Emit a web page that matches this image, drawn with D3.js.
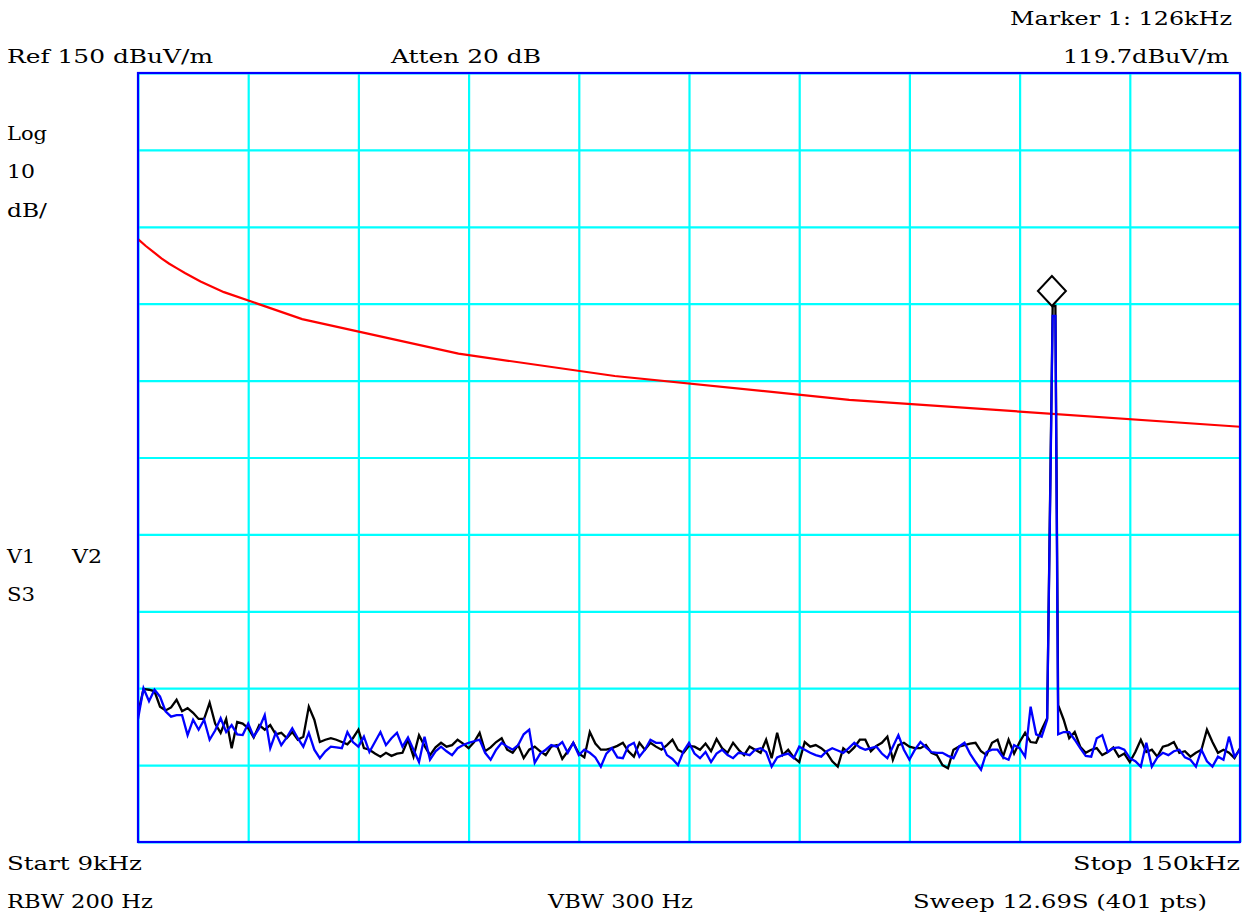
<!DOCTYPE html>
<html><head><meta charset="utf-8">
<script src="https://cdn.jsdelivr.net/npm/d3@7"></script>
<style>
html,body{margin:0;padding:0;background:#fff;}
svg{display:block;}
text{font-family:"DejaVu Serif",serif;font-size:19px;fill:#000;}
</style>
</head><body>
<svg id="c" width="1242" height="914"></svg>
<script>
// ---- data ----
const startKHz = 9, stopKHz = 150;
const refLevel = 150, bottomLevel = 50;
const gridFreqTicks = [9, 23.1, 37.2, 51.3, 65.4, 79.5, 93.6, 107.7, 121.8, 135.9, 150];
const gridLevelTicks = [50, 60, 70, 80, 90, 100, 110, 120, 130, 140, 150];

const limitFreq  = [9, 10, 11, 12, 13, 14, 15, 17, 20, 30, 50, 70, 100, 150];
const limitLevel = [128.4, 127.5, 126.7, 125.9, 125.2, 124.6, 124.0, 122.9, 121.5, 118.0, 113.5, 110.6, 107.5, 104.0];

const traceBlack = [
66.7,69.9,69.8,69.6,67.6,67.1,67.5,68.5,67.0,67.4,
66.8,66.0,66.0,68.1,65.4,64.2,66.0,62.2,65.6,65.4,
64.8,63.6,65.2,64.6,65.2,64.0,64.2,63.5,64.3,63.3,
63.7,67.6,65.9,63.0,63.3,63.5,63.3,63.0,62.7,63.5,
64.6,62.2,62.0,61.5,61.1,61.6,61.2,61.5,61.6,63.3,
61.1,63.9,62.5,61.3,62.3,62.9,62.4,62.6,63.3,62.8,
62.2,63.0,64.2,61.8,62.3,63.0,63.5,62.0,61.6,62.6,
60.9,62.0,62.4,61.8,61.3,62.4,62.6,60.8,61.8,62.9,
61.5,61.0,64.3,62.8,62.0,62.0,62.2,62.5,62.9,61.8,
61.1,62.9,62.0,62.9,62.4,62.0,62.6,63.3,62.0,61.6,
62.5,62.4,62.0,62.8,61.8,63.4,62.2,61.6,62.9,62.0,
61.3,62.4,62.0,61.6,63.3,60.9,64.2,61.3,62.0,61.0,
60.4,63.0,62.4,62.6,62.2,61.6,60.5,59.8,62.2,61.6,
62.3,63.3,63.3,61.8,62.5,62.9,63.7,60.7,62.6,62.9,
62.4,62.2,62.2,62.6,61.6,61.3,60.0,59.6,62.0,62.4,
62.6,62.8,62.9,61.8,61.3,62.9,63.3,61.1,63.3,61.5,
63.0,64.2,63.0,62.9,64.6,66.1,119.7,67.8,65.9,63.5,
64.3,62.4,61.6,62.0,62.2,61.3,61.7,62.3,61.1,61.5,
60.4,61.7,63.3,61.7,62.0,61.1,62.4,62.6,63.0,61.6,
61.8,61.1,61.6,62.0,64.6,63.0,61.6,62.0,61.6,60.9,62.2
];

const traceBlue = [
66.0,70.0,68.3,69.8,68.9,67.0,66.3,66.5,66.5,63.9,
65.9,64.6,65.9,63.3,64.5,66.1,64.3,65.2,64.0,63.9,
65.4,63.7,64.8,66.5,62.2,64.2,62.6,63.6,64.8,63.5,
62.4,64.2,62.0,60.9,61.8,62.4,62.3,62.2,64.3,63.0,
62.4,63.7,61.7,63.0,64.3,62.6,63.5,64.2,62.4,63.6,
62.0,60.4,63.7,60.7,61.8,62.4,61.8,61.3,62.2,62.6,
62.9,63.1,63.3,61.6,60.7,62.0,62.9,62.4,62.0,62.6,
64.0,64.6,60.3,61.5,62.0,62.6,62.4,63.0,61.6,62.9,
61.3,62.0,61.6,61.0,59.8,61.5,62.2,61.0,60.9,62.5,
62.9,61.1,62.0,63.3,62.9,62.9,61.3,60.8,60.0,61.8,
62.9,61.5,60.9,61.7,60.4,61.5,62.0,61.3,60.9,61.6,
61.5,61.3,62.0,62.2,61.7,59.8,61.0,61.3,61.5,60.9,
62.4,62.0,61.6,61.3,61.1,61.8,62.2,61.9,61.6,62.2,
62.9,62.3,62.0,62.2,62.4,61.5,60.9,62.4,63.9,62.0,
60.7,62.0,63.0,62.3,61.7,61.6,61.6,61.2,60.9,62.4,
62.9,61.5,60.4,59.4,61.7,62.0,62.0,61.0,60.7,62.6,
62.2,61.1,67.6,64.0,63.7,65.9,118.4,64.0,64.3,64.3,
63.3,62.2,61.2,61.1,63.5,63.9,61.7,62.2,62.3,62.0,
60.9,60.5,59.8,62.9,59.8,61.0,61.6,61.3,61.8,62.0,
61.0,60.7,59.8,62.0,60.5,59.8,61.1,60.7,63.7,61.1,62.0
];

// extra sweep point at the top of the peak (second 401-grid point)
const peakExtraFreq = 126.38;
const peakExtraBlack = 119.7;
const peakExtraBlue = 118.4;

const markerFreq = 126, markerLevel = 119.7;

// ---- layout ----
const svg = d3.select("#c");
const L = 138, T = 73, R = 1240, B = 842;
const x = d3.scaleLinear().domain([startKHz, stopKHz]).range([L, R]);
const y = d3.scaleLinear().domain([bottomLevel, refLevel]).range([B, T]);

svg.append("rect").attr("width", 1242).attr("height", 914).attr("fill", "#fff");

// grid via axes
const gx = svg.append("g").attr("transform", `translate(0,${B})`)
  .call(d3.axisBottom(x).tickValues(gridFreqTicks).tickSize(-(B - T)).tickFormat(""));
const gy = svg.append("g").attr("transform", `translate(${L},0)`)
  .call(d3.axisLeft(y).tickValues(gridLevelTicks).tickSize(-(R - L)).tickFormat(""));
[gx, gy].forEach(g => {
  g.select(".domain").remove();
  g.selectAll(".tick line").attr("stroke", "#00ffff").attr("stroke-width", 2.2);
});

// limit line
const limitData = limitFreq.map((f, i) => [f, limitLevel[i]]);
const line = d3.line().x(d => x(d[0])).y(d => y(d[1]));
svg.append("path").datum(limitData).attr("d", line)
  .attr("fill", "none").attr("stroke", "#ff0000").attr("stroke-width", 2.2);

// traces
const pts = traceBlack.length;
const traceFreq = d3.range(pts).map(i => startKHz + i * (stopKHz - startKHz) / (pts - 1));
function series(vals, extraF, extraV) {
  const s = vals.map((v, i) => [traceFreq[i], v]);
  s.push([extraF, extraV]);
  return s.sort((a, b) => a[0] - b[0]);
}
svg.append("clipPath").attr("id", "plotclip").append("rect")
  .attr("x", L).attr("y", T).attr("width", R - L).attr("height", B - T);
svg.append("path").datum(series(traceBlack, peakExtraFreq, peakExtraBlack)).attr("d", line)
  .attr("clip-path", "url(#plotclip)")
  .attr("fill", "none").attr("stroke", "#000").attr("stroke-width", 2.3).attr("stroke-linejoin", "miter");
svg.append("path").datum(series(traceBlue, peakExtraFreq, peakExtraBlue)).attr("d", line)
  .attr("clip-path", "url(#plotclip)")
  .attr("fill", "none").attr("stroke", "#0000ff").attr("stroke-width", 2.3).attr("stroke-linejoin", "miter");

// frame
svg.append("rect").attr("x", L).attr("y", T).attr("width", R - L).attr("height", B - T)
  .attr("fill", "none").attr("stroke", "#0000ff").attr("stroke-width", 2.2);

// marker diamond
const mx = (x(markerFreq) + x(peakExtraFreq)) / 2 - 2, my = y(markerLevel);
const hw = 14, hh = 15;
svg.append("path")
  .attr("d", `M${mx},${my - 2 * hh} L${mx + hw},${my - hh} L${mx},${my} L${mx - hw},${my - hh} Z`)
  .attr("fill", "#fff").attr("stroke", "#000").attr("stroke-width", 2);

// text annotations
function label(t, px, py, len) {
  svg.append("text").attr("x", px).attr("y", py)
    .attr("textLength", len).attr("lengthAdjust", "spacingAndGlyphs").text(t);
}
label("Marker 1: 126kHz", 1010, 25, 222);
label("Ref 150 dBuV/m", 7, 63, 206);
label("Atten 20 dB", 391, 63, 150);
label("119.7dBuV/m", 1063, 63, 166);
label("Log", 7, 140, 40);
label("10", 7, 178, 28);
label("dB/", 7, 217, 40);
label("V1", 7, 563, 28);
label("V2", 72, 563, 30);
label("S3", 7, 601, 28);
label("Start 9kHz", 7, 870, 135);
label("Stop 150kHz", 1073, 870, 167);
label("RBW 200 Hz", 7, 908, 146);
label("VBW 300 Hz", 548, 908, 145);
label("Sweep 12.69S (401 pts)", 913, 908, 294);
</script>
</body></html>
